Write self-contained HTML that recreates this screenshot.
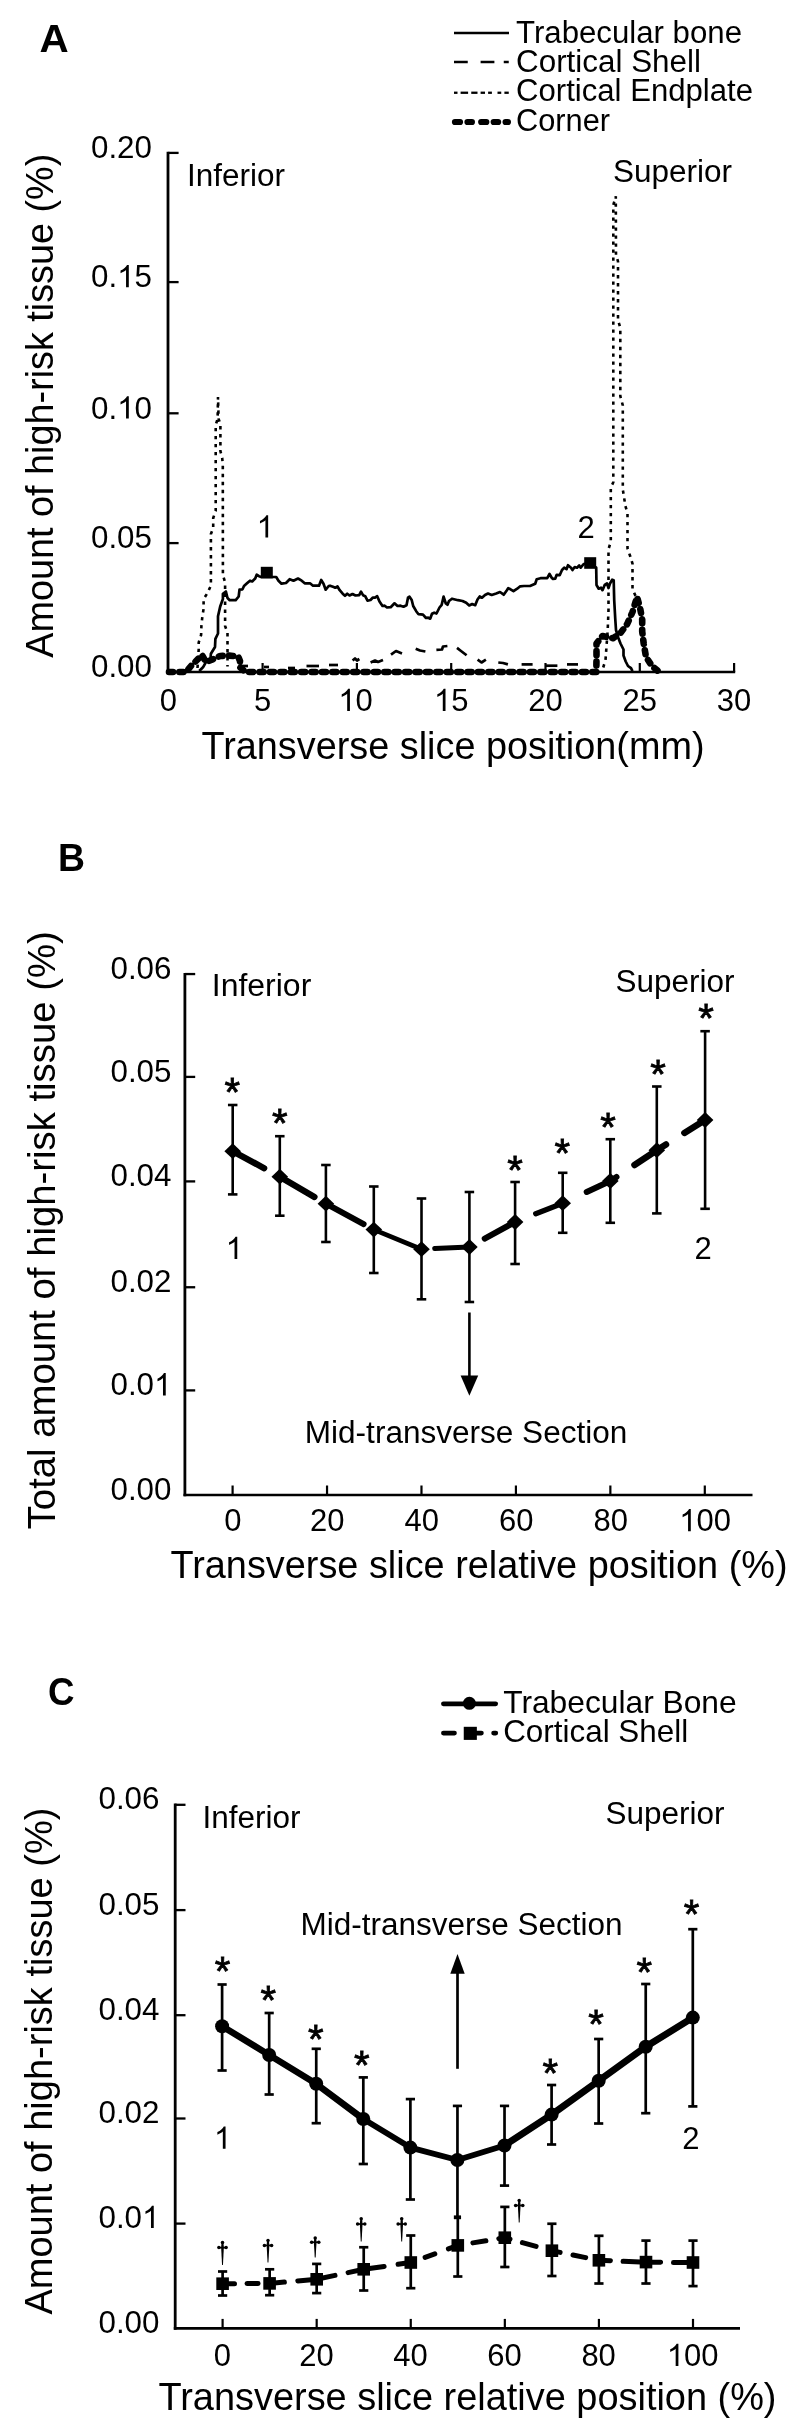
<!DOCTYPE html>
<html><head><meta charset="utf-8"><title>Figure</title>
<style>
html,body{margin:0;padding:0;background:#fff;}
body{width:800px;height:2431px;overflow:hidden;font-family:"Liberation Sans",sans-serif;}
svg{display:block;will-change:transform;}
svg text{font-family:"Liberation Sans",sans-serif;fill:#000;}
</style></head><body>
<svg width="800" height="2431" viewBox="0 0 800 2431">
<rect x="0" y="0" width="800" height="2431" fill="#fff"/>
<g id="panelA">
<text x="39.6" y="52.2" font-size="39.5" text-anchor="start" textLength="29.2" lengthAdjust="spacingAndGlyphs" font-weight="bold" >A</text>
<line x1="454" y1="33" x2="509" y2="33" stroke="#000" stroke-width="2.5" />
<line x1="454" y1="62" x2="467.75" y2="62" stroke="#000" stroke-width="2.5" />
<line x1="480.6" y1="62" x2="494.4" y2="62" stroke="#000" stroke-width="2.5" />
<line x1="503.75" y1="62" x2="508.75" y2="62" stroke="#000" stroke-width="2.5" />
<line x1="454" y1="92.75" x2="457.5" y2="92.75" stroke="#000" stroke-width="2.3" />
<line x1="460.6" y1="92.75" x2="468.1" y2="92.75" stroke="#000" stroke-width="2.3" />
<line x1="471.25" y1="92.75" x2="477.5" y2="92.75" stroke="#000" stroke-width="2.3" />
<line x1="480.6" y1="92.75" x2="485" y2="92.75" stroke="#000" stroke-width="2.3" />
<line x1="488.1" y1="92.75" x2="491.9" y2="92.75" stroke="#000" stroke-width="2.3" />
<line x1="497.5" y1="92.75" x2="501.25" y2="92.75" stroke="#000" stroke-width="2.3" />
<line x1="504.4" y1="92.75" x2="508.75" y2="92.75" stroke="#000" stroke-width="2.3" />
<line x1="455" y1="122" x2="460" y2="122" stroke="#000" stroke-width="6.2" stroke-linecap="round"/>
<line x1="467.5" y1="122" x2="471.9" y2="122" stroke="#000" stroke-width="6.2" stroke-linecap="round"/>
<line x1="481.2" y1="122" x2="486.3" y2="122" stroke="#000" stroke-width="6.2" stroke-linecap="round"/>
<line x1="493.7" y1="122" x2="498.1" y2="122" stroke="#000" stroke-width="6.2" stroke-linecap="round"/>
<line x1="505.6" y1="122" x2="507.9" y2="122" stroke="#000" stroke-width="6.2" stroke-linecap="round"/>
<text x="516" y="42.7" font-size="31" text-anchor="start" textLength="226" lengthAdjust="spacingAndGlyphs" >Trabecular bone</text>
<text x="516" y="71.7" font-size="31" text-anchor="start" textLength="185" lengthAdjust="spacingAndGlyphs" >Cortical Shell</text>
<text x="516" y="100.7" font-size="31" text-anchor="start" textLength="237" lengthAdjust="spacingAndGlyphs" >Cortical Endplate</text>
<text x="516" y="130.7" font-size="31" text-anchor="start" textLength="94" lengthAdjust="spacingAndGlyphs" >Corner</text>
<line x1="168.0" y1="151.8" x2="168.0" y2="673.2" stroke="#000" stroke-width="2.8" />
<line x1="166.9" y1="672" x2="735.2" y2="672" stroke="#000" stroke-width="2.6" />
<line x1="168.3" y1="543.1" x2="178.60000000000002" y2="543.1" stroke="#000" stroke-width="2.3" />
<line x1="168.3" y1="413.3" x2="178.60000000000002" y2="413.3" stroke="#000" stroke-width="2.3" />
<line x1="168.3" y1="282.1" x2="178.60000000000002" y2="282.1" stroke="#000" stroke-width="2.3" />
<line x1="168.3" y1="152.9" x2="178.60000000000002" y2="152.9" stroke="#000" stroke-width="2.3" />
<line x1="262.6" y1="672" x2="262.6" y2="663" stroke="#000" stroke-width="2.2" />
<line x1="356.9" y1="672" x2="356.9" y2="663" stroke="#000" stroke-width="2.2" />
<line x1="451.2" y1="672" x2="451.2" y2="663" stroke="#000" stroke-width="2.2" />
<line x1="545.5" y1="672" x2="545.5" y2="663" stroke="#000" stroke-width="2.2" />
<line x1="639.8" y1="672" x2="639.8" y2="663" stroke="#000" stroke-width="2.2" />
<line x1="734.0999999999999" y1="672" x2="734.0999999999999" y2="663" stroke="#000" stroke-width="2.2" />
<text x="90.99" y="677.3" font-size="31" textLength="17.43" lengthAdjust="spacingAndGlyphs">0</text>
<text x="108.43" y="677.3" font-size="31" textLength="8.71" lengthAdjust="spacingAndGlyphs">.</text>
<text x="117.13" y="677.3" font-size="31" textLength="17.43" lengthAdjust="spacingAndGlyphs">0</text>
<text x="134.57" y="677.3" font-size="31" textLength="17.43" lengthAdjust="spacingAndGlyphs">0</text>
<text x="90.99" y="548.3" font-size="31" textLength="17.43" lengthAdjust="spacingAndGlyphs">0</text>
<text x="108.43" y="548.3" font-size="31" textLength="8.71" lengthAdjust="spacingAndGlyphs">.</text>
<text x="117.13" y="548.3" font-size="31" textLength="17.43" lengthAdjust="spacingAndGlyphs">0</text>
<text x="134.57" y="548.3" font-size="31" textLength="17.43" lengthAdjust="spacingAndGlyphs">5</text>
<text x="90.99" y="418.5" font-size="31" textLength="17.43" lengthAdjust="spacingAndGlyphs">0</text>
<text x="108.43" y="418.5" font-size="31" textLength="8.71" lengthAdjust="spacingAndGlyphs">.</text>
<path d="M763 0H583V1147Q518 1085 412.5 1023T223 930V1104Q374 1175 487 1276T647 1472H763Z" transform="translate(117.13,418.5) scale(0.01530,-0.01514)" fill="#000"/>
<text x="134.57" y="418.5" font-size="31" textLength="17.43" lengthAdjust="spacingAndGlyphs">0</text>
<text x="90.99" y="287.3" font-size="31" textLength="17.43" lengthAdjust="spacingAndGlyphs">0</text>
<text x="108.43" y="287.3" font-size="31" textLength="8.71" lengthAdjust="spacingAndGlyphs">.</text>
<path d="M763 0H583V1147Q518 1085 412.5 1023T223 930V1104Q374 1175 487 1276T647 1472H763Z" transform="translate(117.13,287.3) scale(0.01530,-0.01514)" fill="#000"/>
<text x="134.57" y="287.3" font-size="31" textLength="17.43" lengthAdjust="spacingAndGlyphs">5</text>
<text x="90.99" y="158.1" font-size="31" textLength="17.43" lengthAdjust="spacingAndGlyphs">0</text>
<text x="108.43" y="158.1" font-size="31" textLength="8.71" lengthAdjust="spacingAndGlyphs">.</text>
<text x="117.13" y="158.1" font-size="31" textLength="17.43" lengthAdjust="spacingAndGlyphs">2</text>
<text x="134.57" y="158.1" font-size="31" textLength="17.43" lengthAdjust="spacingAndGlyphs">0</text>
<text x="159.68" y="711" font-size="31" textLength="17.24" lengthAdjust="spacingAndGlyphs">0</text>
<text x="253.98" y="711" font-size="31" textLength="17.24" lengthAdjust="spacingAndGlyphs">5</text>
<path d="M763 0H583V1147Q518 1085 412.5 1023T223 930V1104Q374 1175 487 1276T647 1472H763Z" transform="translate(338.36,711) scale(0.01514,-0.01514)" fill="#000"/>
<text x="355.60" y="711" font-size="31" textLength="17.24" lengthAdjust="spacingAndGlyphs">0</text>
<path d="M763 0H583V1147Q518 1085 412.5 1023T223 930V1104Q374 1175 487 1276T647 1472H763Z" transform="translate(433.96,711) scale(0.01514,-0.01514)" fill="#000"/>
<text x="451.20" y="711" font-size="31" textLength="17.24" lengthAdjust="spacingAndGlyphs">5</text>
<text x="528.26" y="711" font-size="31" textLength="17.24" lengthAdjust="spacingAndGlyphs">2</text>
<text x="545.50" y="711" font-size="31" textLength="17.24" lengthAdjust="spacingAndGlyphs">0</text>
<text x="622.56" y="711" font-size="31" textLength="17.24" lengthAdjust="spacingAndGlyphs">2</text>
<text x="639.80" y="711" font-size="31" textLength="17.24" lengthAdjust="spacingAndGlyphs">5</text>
<text x="716.86" y="711" font-size="31" textLength="17.24" lengthAdjust="spacingAndGlyphs">3</text>
<text x="734.10" y="711" font-size="31" textLength="17.24" lengthAdjust="spacingAndGlyphs">0</text>
<text x="201.5" y="758.8" font-size="38" text-anchor="start" textLength="503" lengthAdjust="spacingAndGlyphs" >Transverse slice position(mm)</text>
<text x="52.9" y="657.7" font-size="38" text-anchor="start" textLength="504" lengthAdjust="spacingAndGlyphs" transform="rotate(-90 52.9 657.7)" >Amount of high-risk tissue (%)</text>
<text x="187" y="186.3" font-size="31" text-anchor="start" textLength="98" lengthAdjust="spacingAndGlyphs" >Inferior</text>
<text x="613" y="181.6" font-size="31" text-anchor="start" textLength="119" lengthAdjust="spacingAndGlyphs" >Superior</text>
<path d="M763 0H583V1147Q518 1085 412.5 1023T223 930V1104Q374 1175 487 1276T647 1472H763Z" transform="translate(256.60,537.6) scale(0.01514,-0.01514)" fill="#000"/>
<text x="577.6" y="537.8" font-size="31" text-anchor="start" >2</text>
<path d="M197.5,668.0 L198.7,649.3 L198.7,642.5 L201.1,635.0 L201.4,626.0 L202.3,617.0 L203.6,608.8 L203.6,599.0 L207.5,593.0 L210.9,585.5 L210.9,534.0 L213.2,528.0 L213.2,518.0 L215.7,511.0 L215.7,425.0 L217.6,419.0 L218.0,397.0 L218.6,419.0 L220.4,424.0 L220.4,451.0 L222.2,458.0 L222.8,465.0 L222.9,575.0 L225.1,582.5 L225.1,626.0 L227.5,632.8 L227.5,666.5" fill="none" stroke="#000" stroke-width="2.6" stroke-dasharray="3.4 4.6"/>
<path d="M603.2,667.5 L605.5,660.0 L607.7,630.0 L608.5,610.0 L608.5,549.0 L610.8,542.0 L610.8,487.7 L613.3,482.3 L613.3,205.0 L615.8,196.3 L616.0,255.0 L618.0,261.4 L618.0,320.0 L620.3,328.0 L620.3,396.0 L622.8,405.4 L622.8,489.5 L624.0,496.8 L625.3,505.8 L627.5,513.0 L627.5,548.4 L630.3,556.5 L632.5,563.7 L632.5,589.0 L636.0,597.0" fill="none" stroke="#000" stroke-width="2.6" stroke-dasharray="3.4 4.6"/>
<path d="M240.0,666.0 L248.0,666.0" fill="none" stroke="#000" stroke-width="2.7" stroke-linejoin="round"/>
<path d="M264.0,667.0 L269.0,667.0" fill="none" stroke="#000" stroke-width="2.7" stroke-linejoin="round"/>
<path d="M288.0,668.0 L295.0,668.0" fill="none" stroke="#000" stroke-width="2.7" stroke-linejoin="round"/>
<path d="M306.5,666.0 L319.0,666.0" fill="none" stroke="#000" stroke-width="2.7" stroke-linejoin="round"/>
<path d="M329.0,665.0 L338.0,665.0" fill="none" stroke="#000" stroke-width="2.7" stroke-linejoin="round"/>
<path d="M352.6,660.5 L355.0,658.5 L357.0,660.5 L359.4,659.0" fill="none" stroke="#000" stroke-width="2.7" stroke-linejoin="round"/>
<path d="M370.6,662.5 L375.0,660.5 L378.0,662.0 L383.0,660.0" fill="none" stroke="#000" stroke-width="2.7" stroke-linejoin="round"/>
<path d="M391.0,654.7 L396.0,651.0 L402.0,653.4" fill="none" stroke="#000" stroke-width="2.7" stroke-linejoin="round"/>
<path d="M415.7,648.7 L420.0,650.5 L425.4,651.5" fill="none" stroke="#000" stroke-width="2.7" stroke-linejoin="round"/>
<path d="M436.4,649.8 L442.0,649.5 L443.0,646.5 L447.4,646.0" fill="none" stroke="#000" stroke-width="2.7" stroke-linejoin="round"/>
<path d="M457.0,647.9 L461.0,651.0 L466.6,655.3" fill="none" stroke="#000" stroke-width="2.7" stroke-linejoin="round"/>
<path d="M477.6,659.7 L481.5,662.5 L485.9,659.7" fill="none" stroke="#000" stroke-width="2.7" stroke-linejoin="round"/>
<path d="M498.3,662.5 L503.0,663.0 L507.9,664.4" fill="none" stroke="#000" stroke-width="2.7" stroke-linejoin="round"/>
<path d="M521.6,664.4 L532.6,664.4" fill="none" stroke="#000" stroke-width="2.7" stroke-linejoin="round"/>
<path d="M545.0,665.7 L557.4,665.7" fill="none" stroke="#000" stroke-width="2.7" stroke-linejoin="round"/>
<path d="M567.0,664.4 L578.0,664.4" fill="none" stroke="#000" stroke-width="2.7" stroke-linejoin="round"/>
<path d="M199.2,671.0 L203.0,667.3 L206.0,662.0 L210.5,659.0 L210.9,653.8 L215.0,647.0 L215.4,638.8 L218.0,633.5 L218.0,616.3 L220.2,606.5 L222.9,599.0 L222.9,593.8 L225.9,591.5 L227.5,598.0 L229.7,600.2 L235.7,600.2 L238.7,596.5 L239.5,589.7 L242.5,589.3 L244.0,586.0 L247.0,583.3 L250.0,580.7 L252.2,581.5 L255.2,578.5 L256.7,574.7 L259.0,576.2 L261.2,577.0 L272.8,577.0 L276.2,577.0 L278.5,580.7 L281.5,583.7 L286.0,583.0 L289.7,579.2 L293.5,580.7 L298.0,578.5 L301.7,580.7 L304.7,583.3 L310.0,583.3 L313.0,585.7 L319.0,585.7 L321.2,580.0 L323.5,583.7 L325.7,589.7 L328.7,586.0 L330.0,585.7 L333.0,586.8 L335.2,587.7 L337.5,586.5 L339.7,590.2 L342.7,593.7 L345.0,595.8 L347.2,593.7 L349.5,595.5 L352.5,594.0 L355.5,595.5 L359.2,595.2 L361.0,591.7 L363.0,595.2 L365.2,596.2 L367.5,600.7 L370.5,600.0 L372.7,597.7 L375.0,597.7 L377.2,596.2 L379.5,601.5 L382.5,606.0 L384.7,605.7 L387.0,607.5 L390.7,607.2 L394.5,603.3 L397.5,606.0 L400.5,605.7 L403.5,606.7 L406.5,605.2 L408.0,597.7 L409.5,596.7 L411.7,600.0 L413.2,606.0 L416.2,611.2 L418.5,614.2 L423.0,614.7 L426.0,618.0 L428.2,617.7 L430.2,618.7 L432.0,613.8 L434.2,612.7 L436.5,613.5 L439.5,607.5 L441.7,604.8 L443.6,596.6 L445.8,603.5 L447.5,604.8 L449.0,601.0 L452.0,598.7 L458.0,600.2 L462.5,601.0 L466.2,602.8 L469.2,605.5 L472.2,604.0 L475.2,605.2 L477.5,599.5 L479.7,596.5 L482.0,597.7 L485.0,595.0 L488.0,593.5 L491.7,595.0 L496.2,593.5 L500.0,592.0 L503.7,594.7 L506.7,590.5 L508.2,588.2 L510.5,589.3 L513.5,591.2 L517.2,588.7 L520.2,586.3 L524.0,586.0 L530.0,586.0 L535.2,583.7 L536.7,579.2 L540.5,578.2 L547.2,578.2 L549.5,574.0 L551.7,577.7 L553.0,579.0 L555.2,578.7 L556.7,574.8 L559.7,575.2 L562.0,570.0 L564.2,567.7 L566.5,569.2 L568.0,565.2 L571.0,567.7 L572.5,570.0 L574.7,567.0 L577.0,567.7 L579.2,565.5 L580.7,567.7 L583.7,564.0 L590.0,563.0 L596.2,567.7 L596.5,585.0 L598.7,588.7 L601.0,587.7 L602.5,590.2 L604.7,585.0 L607.0,583.5 L608.5,588.0 L610.0,583.5 L612.2,579.7 L613.7,580.2 L614.2,600.0 L615.2,618.0 L616.0,630.0 L618.2,637.5 L620.5,643.5 L623.5,649.5 L623.5,655.5 L625.7,661.5 L628.0,666.0 L631.0,668.2 L632.5,671.2" fill="none" stroke="#000" stroke-width="2.7" stroke-linejoin="round"/>
<rect x="260.8" y="566.8" width="12" height="11.6" fill="#000"/>
<rect x="584.2" y="557.2" width="12" height="11.6" fill="#000"/>
<path d="M169.0,672.0 L186.0,672.0 L191.0,666.0 L199.6,657.5 L202.0,655.0 L206.0,662.0 L211.2,660.0 L220.2,656.0 L229.2,655.6 L238.2,656.5 L240.0,661.0 L239.8,667.0 L245.5,672.0 L596.3,672.0 L596.5,658.5 L596.5,643.5 L602.5,636.0 L613.0,638.2 L620.5,633.0 L627.2,624.0 L632.5,612.0 L637.0,597.0 L640.0,607.5 L642.2,619.5 L642.2,631.5 L643.7,643.5 L646.0,657.0 L652.0,666.0 L659.5,672.3" fill="none" stroke="#000" stroke-width="6.6" stroke-dasharray="4 6.4" stroke-linecap="round" stroke-linejoin="round"/>
</g>
<g id="panelB">
<text x="57.9" y="871" font-size="39.5" text-anchor="start" textLength="27" lengthAdjust="spacingAndGlyphs" font-weight="bold" >B</text>
<line x1="184.9" y1="972.9" x2="184.9" y2="1496.3" stroke="#000" stroke-width="2.8" />
<line x1="183.5" y1="1495" x2="752.5" y2="1495" stroke="#000" stroke-width="2.6" />
<text x="110.49" y="1500.0" font-size="31" textLength="17.43" lengthAdjust="spacingAndGlyphs">0</text>
<text x="127.93" y="1500.0" font-size="31" textLength="8.71" lengthAdjust="spacingAndGlyphs">.</text>
<text x="136.63" y="1500.0" font-size="31" textLength="17.43" lengthAdjust="spacingAndGlyphs">0</text>
<text x="154.07" y="1500.0" font-size="31" textLength="17.43" lengthAdjust="spacingAndGlyphs">0</text>
<line x1="184.9" y1="1390.4" x2="195.20000000000002" y2="1390.4" stroke="#000" stroke-width="2.3" />
<text x="110.49" y="1395.4" font-size="31" textLength="17.43" lengthAdjust="spacingAndGlyphs">0</text>
<text x="127.93" y="1395.4" font-size="31" textLength="8.71" lengthAdjust="spacingAndGlyphs">.</text>
<text x="136.63" y="1395.4" font-size="31" textLength="17.43" lengthAdjust="spacingAndGlyphs">0</text>
<path d="M763 0H583V1147Q518 1085 412.5 1023T223 930V1104Q374 1175 487 1276T647 1472H763Z" transform="translate(154.07,1395.4) scale(0.01530,-0.01514)" fill="#000"/>
<line x1="184.9" y1="1287.25" x2="195.20000000000002" y2="1287.25" stroke="#000" stroke-width="2.3" />
<text x="110.49" y="1292.2" font-size="31" textLength="17.43" lengthAdjust="spacingAndGlyphs">0</text>
<text x="127.93" y="1292.2" font-size="31" textLength="8.71" lengthAdjust="spacingAndGlyphs">.</text>
<text x="136.63" y="1292.2" font-size="31" textLength="17.43" lengthAdjust="spacingAndGlyphs">0</text>
<text x="154.07" y="1292.2" font-size="31" textLength="17.43" lengthAdjust="spacingAndGlyphs">2</text>
<line x1="184.9" y1="1181.4" x2="195.20000000000002" y2="1181.4" stroke="#000" stroke-width="2.3" />
<text x="110.49" y="1186.4" font-size="31" textLength="17.43" lengthAdjust="spacingAndGlyphs">0</text>
<text x="127.93" y="1186.4" font-size="31" textLength="8.71" lengthAdjust="spacingAndGlyphs">.</text>
<text x="136.63" y="1186.4" font-size="31" textLength="17.43" lengthAdjust="spacingAndGlyphs">0</text>
<text x="154.07" y="1186.4" font-size="31" textLength="17.43" lengthAdjust="spacingAndGlyphs">4</text>
<line x1="184.9" y1="1076.9" x2="195.20000000000002" y2="1076.9" stroke="#000" stroke-width="2.3" />
<text x="110.49" y="1081.9" font-size="31" textLength="17.43" lengthAdjust="spacingAndGlyphs">0</text>
<text x="127.93" y="1081.9" font-size="31" textLength="8.71" lengthAdjust="spacingAndGlyphs">.</text>
<text x="136.63" y="1081.9" font-size="31" textLength="17.43" lengthAdjust="spacingAndGlyphs">0</text>
<text x="154.07" y="1081.9" font-size="31" textLength="17.43" lengthAdjust="spacingAndGlyphs">5</text>
<line x1="184.9" y1="974.05" x2="195.20000000000002" y2="974.05" stroke="#000" stroke-width="2.3" />
<text x="110.49" y="979.0" font-size="31" textLength="17.43" lengthAdjust="spacingAndGlyphs">0</text>
<text x="127.93" y="979.0" font-size="31" textLength="8.71" lengthAdjust="spacingAndGlyphs">.</text>
<text x="136.63" y="979.0" font-size="31" textLength="17.43" lengthAdjust="spacingAndGlyphs">0</text>
<text x="154.07" y="979.0" font-size="31" textLength="17.43" lengthAdjust="spacingAndGlyphs">6</text>
<line x1="232.6" y1="1495" x2="232.6" y2="1485.5" stroke="#000" stroke-width="2.2" />
<text x="224.28" y="1531.3" font-size="31" textLength="17.24" lengthAdjust="spacingAndGlyphs">0</text>
<line x1="327.04" y1="1495" x2="327.04" y2="1485.5" stroke="#000" stroke-width="2.2" />
<text x="310.10" y="1531.3" font-size="31" textLength="17.24" lengthAdjust="spacingAndGlyphs">2</text>
<text x="327.34" y="1531.3" font-size="31" textLength="17.24" lengthAdjust="spacingAndGlyphs">0</text>
<line x1="421.48" y1="1495" x2="421.48" y2="1485.5" stroke="#000" stroke-width="2.2" />
<text x="404.54" y="1531.3" font-size="31" textLength="17.24" lengthAdjust="spacingAndGlyphs">4</text>
<text x="421.78" y="1531.3" font-size="31" textLength="17.24" lengthAdjust="spacingAndGlyphs">0</text>
<line x1="515.9200000000001" y1="1495" x2="515.9200000000001" y2="1485.5" stroke="#000" stroke-width="2.2" />
<text x="498.98" y="1531.3" font-size="31" textLength="17.24" lengthAdjust="spacingAndGlyphs">6</text>
<text x="516.22" y="1531.3" font-size="31" textLength="17.24" lengthAdjust="spacingAndGlyphs">0</text>
<line x1="610.36" y1="1495" x2="610.36" y2="1485.5" stroke="#000" stroke-width="2.2" />
<text x="593.42" y="1531.3" font-size="31" textLength="17.24" lengthAdjust="spacingAndGlyphs">8</text>
<text x="610.66" y="1531.3" font-size="31" textLength="17.24" lengthAdjust="spacingAndGlyphs">0</text>
<line x1="704.8000000000001" y1="1495" x2="704.8000000000001" y2="1485.5" stroke="#000" stroke-width="2.2" />
<path d="M763 0H583V1147Q518 1085 412.5 1023T223 930V1104Q374 1175 487 1276T647 1472H763Z" transform="translate(679.24,1531.3) scale(0.01514,-0.01514)" fill="#000"/>
<text x="696.48" y="1531.3" font-size="31" textLength="17.24" lengthAdjust="spacingAndGlyphs">0</text>
<text x="713.72" y="1531.3" font-size="31" textLength="17.24" lengthAdjust="spacingAndGlyphs">0</text>
<text x="170.5" y="1577.5" font-size="38" text-anchor="start" textLength="617" lengthAdjust="spacingAndGlyphs" >Transverse slice relative position (%)</text>
<text x="55.1" y="1529.3" font-size="38" text-anchor="start" textLength="598" lengthAdjust="spacingAndGlyphs" transform="rotate(-90 55.1 1529.3)" >Total amount of high-risk tissue (%)</text>
<text x="211.8" y="995.7" font-size="31" text-anchor="start" textLength="99.5" lengthAdjust="spacingAndGlyphs" >Inferior</text>
<text x="615.5" y="992" font-size="31" text-anchor="start" textLength="119" lengthAdjust="spacingAndGlyphs" >Superior</text>
<path d="M763 0H583V1147Q518 1085 412.5 1023T223 930V1104Q374 1175 487 1276T647 1472H763Z" transform="translate(225.70,1259) scale(0.01514,-0.01514)" fill="#000"/>
<text x="694.5" y="1259.2" font-size="31" text-anchor="start" >2</text>
<text x="304.8" y="1443" font-size="31" text-anchor="start" textLength="322.5" lengthAdjust="spacingAndGlyphs" >Mid-transverse Section</text>
<line x1="469.4" y1="1312.5" x2="469.4" y2="1378" stroke="#000" stroke-width="2.6" />
<path d="M460.6,1375.5 L478.2,1375.5 L469.4,1395.8 Z" fill="#000"/>
<line x1="232.7" y1="1105" x2="232.7" y2="1194.4" stroke="#000" stroke-width="2.6" />
<line x1="227.95" y1="1105" x2="237.45" y2="1105" stroke="#000" stroke-width="2.6" />
<line x1="227.95" y1="1194.4" x2="237.45" y2="1194.4" stroke="#000" stroke-width="2.6" />
<line x1="279.8" y1="1136.2" x2="279.8" y2="1215.7" stroke="#000" stroke-width="2.6" />
<line x1="275.05" y1="1136.2" x2="284.55" y2="1136.2" stroke="#000" stroke-width="2.6" />
<line x1="275.05" y1="1215.7" x2="284.55" y2="1215.7" stroke="#000" stroke-width="2.6" />
<line x1="325.9" y1="1165" x2="325.9" y2="1242" stroke="#000" stroke-width="2.6" />
<line x1="321.15" y1="1165" x2="330.65" y2="1165" stroke="#000" stroke-width="2.6" />
<line x1="321.15" y1="1242" x2="330.65" y2="1242" stroke="#000" stroke-width="2.6" />
<line x1="373.8" y1="1186.5" x2="373.8" y2="1273" stroke="#000" stroke-width="2.6" />
<line x1="369.05" y1="1186.5" x2="378.55" y2="1186.5" stroke="#000" stroke-width="2.6" />
<line x1="369.05" y1="1273" x2="378.55" y2="1273" stroke="#000" stroke-width="2.6" />
<line x1="421.5" y1="1198.5" x2="421.5" y2="1299.3" stroke="#000" stroke-width="2.6" />
<line x1="416.75" y1="1198.5" x2="426.25" y2="1198.5" stroke="#000" stroke-width="2.6" />
<line x1="416.75" y1="1299.3" x2="426.25" y2="1299.3" stroke="#000" stroke-width="2.6" />
<line x1="469.4" y1="1192" x2="469.4" y2="1302" stroke="#000" stroke-width="2.6" />
<line x1="464.65" y1="1192" x2="474.15" y2="1192" stroke="#000" stroke-width="2.6" />
<line x1="464.65" y1="1302" x2="474.15" y2="1302" stroke="#000" stroke-width="2.6" />
<line x1="515.1" y1="1182" x2="515.1" y2="1264" stroke="#000" stroke-width="2.6" />
<line x1="510.35" y1="1182" x2="519.85" y2="1182" stroke="#000" stroke-width="2.6" />
<line x1="510.35" y1="1264" x2="519.85" y2="1264" stroke="#000" stroke-width="2.6" />
<line x1="562.7" y1="1172.8" x2="562.7" y2="1232.8" stroke="#000" stroke-width="2.6" />
<line x1="557.95" y1="1172.8" x2="567.45" y2="1172.8" stroke="#000" stroke-width="2.6" />
<line x1="557.95" y1="1232.8" x2="567.45" y2="1232.8" stroke="#000" stroke-width="2.6" />
<line x1="610.3" y1="1139.2" x2="610.3" y2="1222.8" stroke="#000" stroke-width="2.6" />
<line x1="605.55" y1="1139.2" x2="615.05" y2="1139.2" stroke="#000" stroke-width="2.6" />
<line x1="605.55" y1="1222.8" x2="615.05" y2="1222.8" stroke="#000" stroke-width="2.6" />
<line x1="656.8" y1="1086.5" x2="656.8" y2="1213.4" stroke="#000" stroke-width="2.6" />
<line x1="652.05" y1="1086.5" x2="661.55" y2="1086.5" stroke="#000" stroke-width="2.6" />
<line x1="652.05" y1="1213.4" x2="661.55" y2="1213.4" stroke="#000" stroke-width="2.6" />
<line x1="705.1" y1="1031.2" x2="705.1" y2="1208.8" stroke="#000" stroke-width="2.6" />
<line x1="700.35" y1="1031.2" x2="709.85" y2="1031.2" stroke="#000" stroke-width="2.6" />
<line x1="700.35" y1="1208.8" x2="709.85" y2="1208.8" stroke="#000" stroke-width="2.6" />
<path d="M232.7,1151.2 L264.1,1168.2" fill="none" stroke="#000" stroke-width="6.4" stroke-linecap="round" stroke-linejoin="round"/>
<path d="M279.8,1176.7 L314.4,1197.0" fill="none" stroke="#000" stroke-width="6.4" stroke-linecap="round" stroke-linejoin="round"/>
<path d="M325.9,1203.7 L363.6,1224.1" fill="none" stroke="#000" stroke-width="6" stroke-linecap="round" stroke-linejoin="round"/>
<path d="M373.8,1229.6 L421.5,1249.2" fill="none" stroke="#000" stroke-width="4.8" stroke-linecap="round" stroke-linejoin="round"/>
<path d="M434.7,1248.6 L469.4,1247.0 L469.5,1246.9" fill="none" stroke="#000" stroke-width="5" stroke-linecap="round" stroke-linejoin="round"/>
<path d="M484.7,1238.6 L515.1,1222.0 L515.2,1222.0" fill="none" stroke="#000" stroke-width="6" stroke-linecap="round" stroke-linejoin="round"/>
<path d="M535.8,1213.8 L562.7,1203.2" fill="none" stroke="#000" stroke-width="5.4" stroke-linecap="round" stroke-linejoin="round"/>
<path d="M586.7,1192.0 L610.3,1181.0 L616.5,1176.9" fill="none" stroke="#000" stroke-width="6" stroke-linecap="round" stroke-linejoin="round"/>
<path d="M634.5,1165.0 L656.8,1150.2 L666.0,1144.4" fill="none" stroke="#000" stroke-width="6.5" stroke-linecap="round" stroke-linejoin="round"/>
<path d="M684.4,1132.9 L705.1,1120.0" fill="none" stroke="#000" stroke-width="6.5" stroke-linecap="round" stroke-linejoin="round"/>
<path d="M224.39999999999998,1151.2 L232.7,1143.3 L241.0,1151.2 L232.7,1159.1000000000001 Z" fill="#000"/>
<path d="M271.5,1176.7 L279.8,1168.8 L288.1,1176.7 L279.8,1184.6000000000001 Z" fill="#000"/>
<path d="M317.59999999999997,1203.7 L325.9,1195.8 L334.2,1203.7 L325.9,1211.6000000000001 Z" fill="#000"/>
<path d="M365.5,1229.6 L373.8,1221.6999999999998 L382.1,1229.6 L373.8,1237.5 Z" fill="#000"/>
<path d="M413.2,1249.2 L421.5,1241.3 L429.8,1249.2 L421.5,1257.1000000000001 Z" fill="#000"/>
<path d="M461.09999999999997,1247 L469.4,1239.1 L477.7,1247 L469.4,1254.9 Z" fill="#000"/>
<path d="M506.8,1222 L515.1,1214.1 L523.4,1222 L515.1,1229.9 Z" fill="#000"/>
<path d="M554.4000000000001,1203.2 L562.7,1195.3 L571.0,1203.2 L562.7,1211.1000000000001 Z" fill="#000"/>
<path d="M602.0,1181 L610.3,1173.1 L618.5999999999999,1181 L610.3,1188.9 Z" fill="#000"/>
<path d="M648.5,1150.2 L656.8,1142.3 L665.0999999999999,1150.2 L656.8,1158.1000000000001 Z" fill="#000"/>
<path d="M696.8000000000001,1120 L705.1,1112.1 L713.4,1120 L705.1,1127.9 Z" fill="#000"/>
<text x="224.4" y="1106.1" font-size="40" text-anchor="start" stroke="#000" stroke-width="0.8">*</text>
<text x="271.9" y="1137.1" font-size="40" text-anchor="start" stroke="#000" stroke-width="0.8">*</text>
<text x="507.2" y="1184.1" font-size="40" text-anchor="start" stroke="#000" stroke-width="0.8">*</text>
<text x="554.6" y="1167.1" font-size="40" text-anchor="start" stroke="#000" stroke-width="0.8">*</text>
<text x="600.2" y="1141.1" font-size="40" text-anchor="start" stroke="#000" stroke-width="0.8">*</text>
<text x="650.2" y="1088.1" font-size="40" text-anchor="start" stroke="#000" stroke-width="0.8">*</text>
<text x="698.2" y="1032.1" font-size="40" text-anchor="start" stroke="#000" stroke-width="0.8">*</text>
</g>
<g id="panelC">
<text x="47.9" y="1704.5" font-size="39.5" text-anchor="start" textLength="26.5" lengthAdjust="spacingAndGlyphs" font-weight="bold" >C</text>
<line x1="443.4" y1="1703.8" x2="495.7" y2="1703.8" stroke="#000" stroke-width="4.7" stroke-linecap="round"/>
<circle cx="469.4" cy="1703.3" r="6.5" fill="#000"/>
<line x1="443.4" y1="1733.1" x2="454.5" y2="1733.1" stroke="#000" stroke-width="4.7" stroke-linecap="round"/>
<rect x="463.75" y="1726.8" width="13.1" height="13.1" fill="#000"/>
<line x1="476" y1="1733.1" x2="481.4" y2="1733.1" stroke="#000" stroke-width="4.7" stroke-linecap="round"/>
<line x1="493.6" y1="1733.1" x2="495.8" y2="1733.1" stroke="#000" stroke-width="4.7" stroke-linecap="round"/>
<text x="503.2" y="1713.3" font-size="31.5" text-anchor="start" textLength="233.5" lengthAdjust="spacingAndGlyphs" >Trabecular Bone</text>
<text x="503.2" y="1742.3" font-size="31.5" text-anchor="start" textLength="185" lengthAdjust="spacingAndGlyphs" >Cortical Shell</text>
<line x1="175.2" y1="1803.6" x2="175.2" y2="2329.7000000000003" stroke="#000" stroke-width="2.8" />
<line x1="173.79999999999998" y1="2328.4" x2="740" y2="2328.4" stroke="#000" stroke-width="2.6" />
<text x="98.49" y="2332.8" font-size="31" textLength="17.43" lengthAdjust="spacingAndGlyphs">0</text>
<text x="115.93" y="2332.8" font-size="31" textLength="8.71" lengthAdjust="spacingAndGlyphs">.</text>
<text x="124.63" y="2332.8" font-size="31" textLength="17.43" lengthAdjust="spacingAndGlyphs">0</text>
<text x="142.07" y="2332.8" font-size="31" textLength="17.43" lengthAdjust="spacingAndGlyphs">0</text>
<line x1="175.2" y1="2223.6" x2="185.5" y2="2223.6" stroke="#000" stroke-width="2.3" />
<text x="98.49" y="2228.0" font-size="31" textLength="17.43" lengthAdjust="spacingAndGlyphs">0</text>
<text x="115.93" y="2228.0" font-size="31" textLength="8.71" lengthAdjust="spacingAndGlyphs">.</text>
<text x="124.63" y="2228.0" font-size="31" textLength="17.43" lengthAdjust="spacingAndGlyphs">0</text>
<path d="M763 0H583V1147Q518 1085 412.5 1023T223 930V1104Q374 1175 487 1276T647 1472H763Z" transform="translate(142.07,2228.0) scale(0.01530,-0.01514)" fill="#000"/>
<line x1="175.2" y1="2118.5" x2="185.5" y2="2118.5" stroke="#000" stroke-width="2.3" />
<text x="98.49" y="2122.9" font-size="31" textLength="17.43" lengthAdjust="spacingAndGlyphs">0</text>
<text x="115.93" y="2122.9" font-size="31" textLength="8.71" lengthAdjust="spacingAndGlyphs">.</text>
<text x="124.63" y="2122.9" font-size="31" textLength="17.43" lengthAdjust="spacingAndGlyphs">0</text>
<text x="142.07" y="2122.9" font-size="31" textLength="17.43" lengthAdjust="spacingAndGlyphs">2</text>
<line x1="175.2" y1="2015.2" x2="185.5" y2="2015.2" stroke="#000" stroke-width="2.3" />
<text x="98.49" y="2019.6" font-size="31" textLength="17.43" lengthAdjust="spacingAndGlyphs">0</text>
<text x="115.93" y="2019.6" font-size="31" textLength="8.71" lengthAdjust="spacingAndGlyphs">.</text>
<text x="124.63" y="2019.6" font-size="31" textLength="17.43" lengthAdjust="spacingAndGlyphs">0</text>
<text x="142.07" y="2019.6" font-size="31" textLength="17.43" lengthAdjust="spacingAndGlyphs">4</text>
<line x1="175.2" y1="1910.1" x2="185.5" y2="1910.1" stroke="#000" stroke-width="2.3" />
<text x="98.49" y="1914.5" font-size="31" textLength="17.43" lengthAdjust="spacingAndGlyphs">0</text>
<text x="115.93" y="1914.5" font-size="31" textLength="8.71" lengthAdjust="spacingAndGlyphs">.</text>
<text x="124.63" y="1914.5" font-size="31" textLength="17.43" lengthAdjust="spacingAndGlyphs">0</text>
<text x="142.07" y="1914.5" font-size="31" textLength="17.43" lengthAdjust="spacingAndGlyphs">5</text>
<line x1="175.2" y1="1804.8" x2="185.5" y2="1804.8" stroke="#000" stroke-width="2.3" />
<text x="98.49" y="1809.2" font-size="31" textLength="17.43" lengthAdjust="spacingAndGlyphs">0</text>
<text x="115.93" y="1809.2" font-size="31" textLength="8.71" lengthAdjust="spacingAndGlyphs">.</text>
<text x="124.63" y="1809.2" font-size="31" textLength="17.43" lengthAdjust="spacingAndGlyphs">0</text>
<text x="142.07" y="1809.2" font-size="31" textLength="17.43" lengthAdjust="spacingAndGlyphs">6</text>
<line x1="222.6" y1="2328.4" x2="222.6" y2="2318.9" stroke="#000" stroke-width="2.2" />
<text x="213.68" y="2366" font-size="31" textLength="17.24" lengthAdjust="spacingAndGlyphs">0</text>
<line x1="316.68" y1="2328.4" x2="316.68" y2="2318.9" stroke="#000" stroke-width="2.2" />
<text x="299.14" y="2366" font-size="31" textLength="17.24" lengthAdjust="spacingAndGlyphs">2</text>
<text x="316.38" y="2366" font-size="31" textLength="17.24" lengthAdjust="spacingAndGlyphs">0</text>
<line x1="410.76" y1="2328.4" x2="410.76" y2="2318.9" stroke="#000" stroke-width="2.2" />
<text x="393.22" y="2366" font-size="31" textLength="17.24" lengthAdjust="spacingAndGlyphs">4</text>
<text x="410.46" y="2366" font-size="31" textLength="17.24" lengthAdjust="spacingAndGlyphs">0</text>
<line x1="504.84000000000003" y1="2328.4" x2="504.84000000000003" y2="2318.9" stroke="#000" stroke-width="2.2" />
<text x="487.30" y="2366" font-size="31" textLength="17.24" lengthAdjust="spacingAndGlyphs">6</text>
<text x="504.54" y="2366" font-size="31" textLength="17.24" lengthAdjust="spacingAndGlyphs">0</text>
<line x1="598.92" y1="2328.4" x2="598.92" y2="2318.9" stroke="#000" stroke-width="2.2" />
<text x="581.38" y="2366" font-size="31" textLength="17.24" lengthAdjust="spacingAndGlyphs">8</text>
<text x="598.62" y="2366" font-size="31" textLength="17.24" lengthAdjust="spacingAndGlyphs">0</text>
<line x1="693.0" y1="2328.4" x2="693.0" y2="2318.9" stroke="#000" stroke-width="2.2" />
<path d="M763 0H583V1147Q518 1085 412.5 1023T223 930V1104Q374 1175 487 1276T647 1472H763Z" transform="translate(666.84,2366) scale(0.01514,-0.01514)" fill="#000"/>
<text x="684.08" y="2366" font-size="31" textLength="17.24" lengthAdjust="spacingAndGlyphs">0</text>
<text x="701.32" y="2366" font-size="31" textLength="17.24" lengthAdjust="spacingAndGlyphs">0</text>
<text x="158.5" y="2410.3" font-size="38" text-anchor="start" textLength="618" lengthAdjust="spacingAndGlyphs" >Transverse slice relative position (%)</text>
<text x="52.5" y="2314.6" font-size="38" text-anchor="start" textLength="507" lengthAdjust="spacingAndGlyphs" transform="rotate(-90 52.5 2314.6)" >Amount of high-risk tissue (%)</text>
<text x="202.5" y="1828.4" font-size="31" text-anchor="start" textLength="98" lengthAdjust="spacingAndGlyphs" >Inferior</text>
<text x="605.5" y="1824.2" font-size="31" text-anchor="start" textLength="119" lengthAdjust="spacingAndGlyphs" >Superior</text>
<path d="M763 0H583V1147Q518 1085 412.5 1023T223 930V1104Q374 1175 487 1276T647 1472H763Z" transform="translate(214.00,2148.8) scale(0.01514,-0.01514)" fill="#000"/>
<text x="682.3" y="2149" font-size="31" text-anchor="start" >2</text>
<text x="300.5" y="1935.2" font-size="31" text-anchor="start" textLength="322" lengthAdjust="spacingAndGlyphs" >Mid-transverse Section</text>
<line x1="457.5" y1="2068.8" x2="457.5" y2="1972" stroke="#000" stroke-width="2.7" />
<path d="M450.3,1973.8 L464.7,1973.8 L457.5,1954 Z" fill="#000"/>
<line x1="222.1" y1="1984.5" x2="222.1" y2="2070.5" stroke="#000" stroke-width="2.7" />
<line x1="217.5" y1="1984.5" x2="226.7" y2="1984.5" stroke="#000" stroke-width="2.7" />
<line x1="217.5" y1="2070.5" x2="226.7" y2="2070.5" stroke="#000" stroke-width="2.7" />
<line x1="269.17" y1="2013" x2="269.17" y2="2094.5" stroke="#000" stroke-width="2.7" />
<line x1="264.57" y1="2013" x2="273.77000000000004" y2="2013" stroke="#000" stroke-width="2.7" />
<line x1="264.57" y1="2094.5" x2="273.77000000000004" y2="2094.5" stroke="#000" stroke-width="2.7" />
<line x1="316.24" y1="2048.8" x2="316.24" y2="2123.2" stroke="#000" stroke-width="2.7" />
<line x1="311.64" y1="2048.8" x2="320.84000000000003" y2="2048.8" stroke="#000" stroke-width="2.7" />
<line x1="311.64" y1="2123.2" x2="320.84000000000003" y2="2123.2" stroke="#000" stroke-width="2.7" />
<line x1="363.31" y1="2077.4" x2="363.31" y2="2164" stroke="#000" stroke-width="2.7" />
<line x1="358.71" y1="2077.4" x2="367.91" y2="2077.4" stroke="#000" stroke-width="2.7" />
<line x1="358.71" y1="2164" x2="367.91" y2="2164" stroke="#000" stroke-width="2.7" />
<line x1="410.38" y1="2099.1" x2="410.38" y2="2199.5" stroke="#000" stroke-width="2.7" />
<line x1="405.78" y1="2099.1" x2="414.98" y2="2099.1" stroke="#000" stroke-width="2.7" />
<line x1="405.78" y1="2199.5" x2="414.98" y2="2199.5" stroke="#000" stroke-width="2.7" />
<line x1="457.45" y1="2105.9" x2="457.45" y2="2217.3" stroke="#000" stroke-width="2.7" />
<line x1="452.84999999999997" y1="2105.9" x2="462.05" y2="2105.9" stroke="#000" stroke-width="2.7" />
<line x1="453.84999999999997" y1="2217.3" x2="461.05" y2="2217.3" stroke="#000" stroke-width="3.8" />
<line x1="504.52" y1="2105.9" x2="504.52" y2="2185.6" stroke="#000" stroke-width="2.7" />
<line x1="499.91999999999996" y1="2105.9" x2="509.12" y2="2105.9" stroke="#000" stroke-width="2.7" />
<line x1="499.91999999999996" y1="2185.6" x2="509.12" y2="2185.6" stroke="#000" stroke-width="2.7" />
<line x1="551.59" y1="2085" x2="551.59" y2="2144.5" stroke="#000" stroke-width="2.7" />
<line x1="546.99" y1="2085" x2="556.19" y2="2085" stroke="#000" stroke-width="2.7" />
<line x1="546.99" y1="2144.5" x2="556.19" y2="2144.5" stroke="#000" stroke-width="2.7" />
<line x1="598.66" y1="2039" x2="598.66" y2="2123.5" stroke="#000" stroke-width="2.7" />
<line x1="594.06" y1="2039" x2="603.26" y2="2039" stroke="#000" stroke-width="2.7" />
<line x1="594.06" y1="2123.5" x2="603.26" y2="2123.5" stroke="#000" stroke-width="2.7" />
<line x1="645.73" y1="1984" x2="645.73" y2="2113.2" stroke="#000" stroke-width="2.7" />
<line x1="641.13" y1="1984" x2="650.33" y2="1984" stroke="#000" stroke-width="2.7" />
<line x1="641.13" y1="2113.2" x2="650.33" y2="2113.2" stroke="#000" stroke-width="2.7" />
<line x1="692.8" y1="1929.2" x2="692.8" y2="2106.4" stroke="#000" stroke-width="2.7" />
<line x1="688.1999999999999" y1="1929.2" x2="697.4" y2="1929.2" stroke="#000" stroke-width="2.7" />
<line x1="688.1999999999999" y1="2106.4" x2="697.4" y2="2106.4" stroke="#000" stroke-width="2.7" />
<line x1="222.6" y1="2271.5" x2="222.6" y2="2295.5" stroke="#000" stroke-width="2.7" />
<line x1="218.0" y1="2271.5" x2="227.2" y2="2271.5" stroke="#000" stroke-width="2.7" />
<line x1="218.0" y1="2295.5" x2="227.2" y2="2295.5" stroke="#000" stroke-width="2.7" />
<line x1="269.64" y1="2269.3" x2="269.64" y2="2295.2" stroke="#000" stroke-width="2.7" />
<line x1="265.03999999999996" y1="2269.3" x2="274.24" y2="2269.3" stroke="#000" stroke-width="2.7" />
<line x1="265.03999999999996" y1="2295.2" x2="274.24" y2="2295.2" stroke="#000" stroke-width="2.7" />
<line x1="316.68" y1="2263.9" x2="316.68" y2="2293.1" stroke="#000" stroke-width="2.7" />
<line x1="312.08" y1="2263.9" x2="321.28000000000003" y2="2263.9" stroke="#000" stroke-width="2.7" />
<line x1="312.08" y1="2293.1" x2="321.28000000000003" y2="2293.1" stroke="#000" stroke-width="2.7" />
<line x1="363.72" y1="2247.25" x2="363.72" y2="2290.5" stroke="#000" stroke-width="2.7" />
<line x1="359.12" y1="2247.25" x2="368.32000000000005" y2="2247.25" stroke="#000" stroke-width="2.7" />
<line x1="359.12" y1="2290.5" x2="368.32000000000005" y2="2290.5" stroke="#000" stroke-width="2.7" />
<line x1="410.76" y1="2235.5" x2="410.76" y2="2288.2" stroke="#000" stroke-width="2.7" />
<line x1="406.15999999999997" y1="2235.5" x2="415.36" y2="2235.5" stroke="#000" stroke-width="2.7" />
<line x1="406.15999999999997" y1="2288.2" x2="415.36" y2="2288.2" stroke="#000" stroke-width="2.7" />
<line x1="457.79999999999995" y1="2245.4" x2="457.79999999999995" y2="2276.5" stroke="#000" stroke-width="2.7" />
<line x1="453.19999999999993" y1="2245.4" x2="462.4" y2="2245.4" stroke="#000" stroke-width="2.7" />
<line x1="453.19999999999993" y1="2276.5" x2="462.4" y2="2276.5" stroke="#000" stroke-width="2.7" />
<line x1="504.84000000000003" y1="2206.9" x2="504.84000000000003" y2="2267" stroke="#000" stroke-width="2.7" />
<line x1="500.24" y1="2206.9" x2="509.44000000000005" y2="2206.9" stroke="#000" stroke-width="2.7" />
<line x1="500.24" y1="2267" x2="509.44000000000005" y2="2267" stroke="#000" stroke-width="2.7" />
<line x1="551.88" y1="2223.75" x2="551.88" y2="2276" stroke="#000" stroke-width="2.7" />
<line x1="547.28" y1="2223.75" x2="556.48" y2="2223.75" stroke="#000" stroke-width="2.7" />
<line x1="547.28" y1="2276" x2="556.48" y2="2276" stroke="#000" stroke-width="2.7" />
<line x1="598.92" y1="2235.8" x2="598.92" y2="2283.5" stroke="#000" stroke-width="2.7" />
<line x1="594.3199999999999" y1="2235.8" x2="603.52" y2="2235.8" stroke="#000" stroke-width="2.7" />
<line x1="594.3199999999999" y1="2283.5" x2="603.52" y2="2283.5" stroke="#000" stroke-width="2.7" />
<line x1="645.96" y1="2240.6" x2="645.96" y2="2283.5" stroke="#000" stroke-width="2.7" />
<line x1="641.36" y1="2240.6" x2="650.5600000000001" y2="2240.6" stroke="#000" stroke-width="2.7" />
<line x1="641.36" y1="2283.5" x2="650.5600000000001" y2="2283.5" stroke="#000" stroke-width="2.7" />
<line x1="693.0" y1="2240.6" x2="693.0" y2="2286.1" stroke="#000" stroke-width="2.7" />
<line x1="688.4" y1="2240.6" x2="697.6" y2="2240.6" stroke="#000" stroke-width="2.7" />
<line x1="688.4" y1="2286.1" x2="697.6" y2="2286.1" stroke="#000" stroke-width="2.7" />
<line x1="457.79999999999995" y1="2216" x2="457.79999999999995" y2="2246" stroke="#000" stroke-width="2.7" />
<path d="M222.1,2026.2 L269.2,2055.0 L316.2,2083.8 L363.3,2119.0" fill="none" stroke="#000" stroke-width="6.6" stroke-linejoin="round" stroke-linecap="round"/>
<path d="M363.3,2119.0 L410.4,2147.6 L457.4,2160.0 L504.5,2145.5" fill="none" stroke="#000" stroke-width="5.8" stroke-linejoin="round" stroke-linecap="round"/>
<path d="M504.5,2145.5 L551.6,2114.6 L598.7,2080.8 L645.7,2046.8 L692.8,2017.6" fill="none" stroke="#000" stroke-width="6.9" stroke-linejoin="round" stroke-linecap="round"/>
<circle cx="222.1" cy="2026.2" r="7" fill="#000"/>
<circle cx="269.2" cy="2055" r="7" fill="#000"/>
<circle cx="316.2" cy="2083.8" r="7" fill="#000"/>
<circle cx="363.3" cy="2119" r="7" fill="#000"/>
<circle cx="410.4" cy="2147.6" r="7" fill="#000"/>
<circle cx="457.4" cy="2160" r="7" fill="#000"/>
<circle cx="504.5" cy="2145.5" r="7" fill="#000"/>
<circle cx="551.6" cy="2114.6" r="7" fill="#000"/>
<circle cx="598.7" cy="2080.8" r="7" fill="#000"/>
<circle cx="645.7" cy="2046.8" r="7" fill="#000"/>
<circle cx="692.8" cy="2017.6" r="7" fill="#000"/>
<path d="M222.8,2283.7 L234.5,2283.7" fill="none" stroke="#000" stroke-width="5" stroke-linecap="round" stroke-linejoin="round"/>
<path d="M247.0,2283.6 L258.1,2283.5" fill="none" stroke="#000" stroke-width="5" stroke-linecap="round" stroke-linejoin="round"/>
<path d="M269.0,2283.4 L269.6,2283.4 L284.4,2282.1" fill="none" stroke="#000" stroke-width="5" stroke-linecap="round" stroke-linejoin="round"/>
<path d="M297.8,2280.9 L316.7,2279.3 L335.0,2275.4" fill="none" stroke="#000" stroke-width="5" stroke-linecap="round" stroke-linejoin="round"/>
<path d="M348.1,2272.6 L363.7,2269.3 L384.1,2266.4" fill="none" stroke="#000" stroke-width="5" stroke-linecap="round" stroke-linejoin="round"/>
<path d="M398.1,2264.3 L410.2,2262.6" fill="none" stroke="#000" stroke-width="5" stroke-linecap="round" stroke-linejoin="round"/>
<path d="M425.1,2257.3 L434.8,2253.8" fill="none" stroke="#000" stroke-width="5" stroke-linecap="round" stroke-linejoin="round"/>
<path d="M448.4,2248.8 L457.8,2245.4 L458.0,2245.4" fill="none" stroke="#000" stroke-width="5" stroke-linecap="round" stroke-linejoin="round"/>
<path d="M472.9,2242.9 L485.9,2240.8" fill="none" stroke="#000" stroke-width="5" stroke-linecap="round" stroke-linejoin="round"/>
<path d="M498.8,2238.7 L504.8,2237.7 L510.0,2239.1" fill="none" stroke="#000" stroke-width="5" stroke-linecap="round" stroke-linejoin="round"/>
<path d="M522.4,2242.6 L536.1,2246.4" fill="none" stroke="#000" stroke-width="5" stroke-linecap="round" stroke-linejoin="round"/>
<path d="M551.8,2250.7 L551.9,2250.8 L560.1,2252.4" fill="none" stroke="#000" stroke-width="5" stroke-linecap="round" stroke-linejoin="round"/>
<path d="M573.0,2255.0 L585.7,2257.6" fill="none" stroke="#000" stroke-width="5" stroke-linecap="round" stroke-linejoin="round"/>
<path d="M599.2,2260.3 L610.4,2260.7" fill="none" stroke="#000" stroke-width="5" stroke-linecap="round" stroke-linejoin="round"/>
<path d="M623.1,2261.3 L646.0,2262.2 L660.6,2262.3" fill="none" stroke="#000" stroke-width="5" stroke-linecap="round" stroke-linejoin="round"/>
<path d="M673.5,2262.4 L693.0,2262.5 L693.2,2262.5" fill="none" stroke="#000" stroke-width="5" stroke-linecap="round" stroke-linejoin="round"/>
<rect x="216.3" y="2277.4" width="12.6" height="12.6" fill="#000"/>
<rect x="263.3" y="2277.1" width="12.6" height="12.6" fill="#000"/>
<rect x="310.4" y="2273.0" width="12.6" height="12.6" fill="#000"/>
<rect x="357.4" y="2263.0" width="12.6" height="12.6" fill="#000"/>
<rect x="404.5" y="2256.2" width="12.6" height="12.6" fill="#000"/>
<rect x="451.5" y="2239.1" width="12.6" height="12.6" fill="#000"/>
<rect x="498.5" y="2231.4" width="12.6" height="12.6" fill="#000"/>
<rect x="545.6" y="2244.4" width="12.6" height="12.6" fill="#000"/>
<rect x="592.6" y="2254.0" width="12.6" height="12.6" fill="#000"/>
<rect x="639.7" y="2255.8" width="12.6" height="12.6" fill="#000"/>
<rect x="686.7" y="2256.2" width="12.6" height="12.6" fill="#000"/>
<text x="214.7" y="1985.1" font-size="40" text-anchor="start" stroke="#000" stroke-width="0.8">*</text>
<text x="260.4" y="2013.9" font-size="40" text-anchor="start" stroke="#000" stroke-width="0.8">*</text>
<text x="308.0" y="2052.6" font-size="40" text-anchor="start" stroke="#000" stroke-width="0.8">*</text>
<text x="354.0" y="2078.9" font-size="40" text-anchor="start" stroke="#000" stroke-width="0.8">*</text>
<text x="542.5" y="2086.6" font-size="40" text-anchor="start" stroke="#000" stroke-width="0.8">*</text>
<text x="588.2" y="2037.9" font-size="40" text-anchor="start" stroke="#000" stroke-width="0.8">*</text>
<text x="636.6" y="1985.5" font-size="40" text-anchor="start" stroke="#000" stroke-width="0.8">*</text>
<text x="683.8" y="1928.1" font-size="40" text-anchor="start" stroke="#000" stroke-width="0.8">*</text>
<g fill="#000"><circle cx="222.5" cy="2242.4" r="1.75"/><path d="M221.5,2243.0 L223.5,2243.0 L223.85,2247.6 L222.95,2265.0 L222.05,2265.0 L221.15,2247.6 Z"/><rect x="218.7" y="2246.8" width="7.6" height="1.7"/><circle cx="218.9" cy="2247.6" r="1.75"/><circle cx="226.1" cy="2247.6" r="1.75"/></g>
<g fill="#000"><circle cx="268" cy="2240.4" r="1.75"/><path d="M267.0,2241.0 L269.0,2241.0 L269.35,2245.5 L268.45,2262.5 L267.55,2262.5 L266.65,2245.5 Z"/><rect x="264.2" y="2244.6" width="7.6" height="1.7"/><circle cx="264.4" cy="2245.5" r="1.75"/><circle cx="271.6" cy="2245.5" r="1.75"/></g>
<g fill="#000"><circle cx="315.2" cy="2237.9" r="1.75"/><path d="M314.2,2238.5 L316.2,2238.5 L316.55,2242.2 L315.65,2257.4 L314.75,2257.4 L313.84999999999997,2242.2 Z"/><rect x="311.4" y="2241.4" width="7.6" height="1.7"/><circle cx="311.6" cy="2242.2" r="1.75"/><circle cx="318.8" cy="2242.2" r="1.75"/></g>
<g fill="#000"><circle cx="361.2" cy="2218.8" r="1.75"/><path d="M360.2,2219.4 L362.2,2219.4 L362.55,2224.1 L361.65,2241.6 L360.75,2241.6 L359.84999999999997,2224.1 Z"/><rect x="357.4" y="2223.2" width="7.6" height="1.7"/><circle cx="357.6" cy="2224.1" r="1.75"/><circle cx="364.8" cy="2224.1" r="1.75"/></g>
<g fill="#000"><circle cx="401.7" cy="2218.8" r="1.75"/><path d="M400.7,2219.4 L402.7,2219.4 L403.05,2224.1 L402.15,2241.6 L401.25,2241.6 L400.34999999999997,2224.1 Z"/><rect x="397.9" y="2223.2" width="7.6" height="1.7"/><circle cx="398.1" cy="2224.1" r="1.75"/><circle cx="405.3" cy="2224.1" r="1.75"/></g>
<g fill="#000"><circle cx="519.2" cy="2200.4" r="1.75"/><path d="M518.2,2201.0 L520.2,2201.0 L520.5500000000001,2205.5 L519.6500000000001,2222.6 L518.75,2222.6 L517.85,2205.5 Z"/><rect x="515.4" y="2204.6" width="7.6" height="1.7"/><circle cx="515.6" cy="2205.5" r="1.75"/><circle cx="522.8" cy="2205.5" r="1.75"/></g>
</g>
</svg>
</body></html>
